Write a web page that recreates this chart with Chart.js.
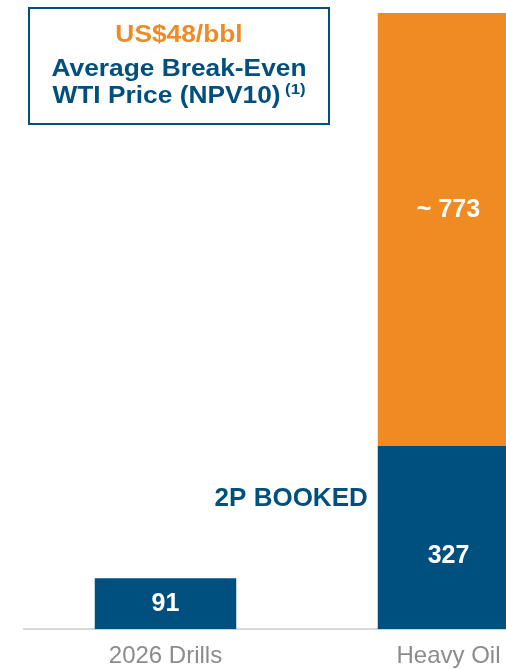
<!DOCTYPE html>
<html>
<head>
<meta charset="utf-8">
<script src="https://cdn.jsdelivr.net/npm/chart.js@4"></script>
<style>
  html, body { margin: 0; padding: 0; background: #fff; }
  #wrap { width: 506px; height: 670px; overflow: hidden; position: relative; }
  canvas { display: block; }
</style>
</head>
<body>
<div id="wrap">
  <canvas id="reserveChart" width="590" height="684"></canvas>
</div>
<script>
  // categories and values
  const categories = ['2026 Drills', 'Heavy Oil'];
  const booked = [91, 327];       // 2P booked (blue)
  const unbooked = [null, 773];   // ~ unbooked on top (orange)
  const bookedLabels = ['91', '327'];
  const unbookedLabels = ['', '~ 773'];
  const bookedNote = '2P BOOKED';
  const calloutPrice = 'US$48/bbl';
  const calloutLines = ['Average Break-Even', 'WTI Price (NPV10)'];
  const calloutNote = '(1)';

  const blue = '#00507f';
  const orange = '#f08b24';
  const fontFam = "'Liberation Sans', Arial, sans-serif";

  // white numbers inside the bars, the 2P BOOKED tag and the callout box
  const labelPlugin = {
    id: 'labels',
    afterDatasetsDraw(chart) {
      const c = chart.ctx;
      const m0 = chart.getDatasetMeta(0);
      const m1 = chart.getDatasetMeta(1);
      c.save();
      c.fillStyle = '#fff';
      c.font = 'bold 25px ' + fontFam;
      c.textAlign = 'center';
      c.textBaseline = 'middle';
      m0.data.forEach((bar, i) => {
        const mid = (bar.y + bar.base) / 2;
        const shift = i === 1 ? 19 : 0;
        c.fillText(bookedLabels[i], bar.x, mid + shift);
      });
      m1.data.forEach((bar, i) => {
        if (!unbookedLabels[i]) return;
        const mid = (bar.y + bar.base) / 2;
        c.fillText(unbookedLabels[i], bar.x, mid - 19);
      });

      // 2P BOOKED to the left of the heavy oil bar
      const hb = m0.data[1];
      c.fillStyle = blue;
      c.font = 'bold 26px ' + fontFam;
      c.textAlign = 'right';
      c.fillText(bookedNote, hb.x - hb.width / 2 - 10, hb.y + 53);

      // callout box
      c.strokeStyle = blue;
      c.lineWidth = 2;
      c.strokeRect(29, 8, 300, 116);

      // the box text is a bit wider than plain Arial
      c.translate(179, 0);
      c.scale(1.12, 1);
      c.textAlign = 'center';
      c.textBaseline = 'alphabetic';
      c.fillStyle = orange;
      c.font = 'bold 23.5px ' + fontFam;
      c.fillText(calloutPrice, 0, 42);
      c.fillStyle = blue;
      c.fillText(calloutLines[0], 0, 76);
      const w1 = c.measureText(calloutLines[1]).width;
      c.font = 'bold 15px ' + fontFam;
      const w2 = c.measureText(calloutNote).width;
      const left = -(w1 + 4 + w2) / 2;
      c.textAlign = 'left';
      c.fillText(calloutNote, left + w1 + 4, 94);
      c.font = 'bold 23.5px ' + fontFam;
      c.fillText(calloutLines[1], left, 102.5);
      c.restore();
    }
  };

  let ctx = document.getElementById('reserveChart').getContext('2d');

  let reserveChart = new Chart(ctx, {
    type: 'bar',
    data: {
      labels: categories,
      datasets: [{
        label: '2P Booked',
        data: booked,
        backgroundColor: blue,
        barPercentage: 0.5,
        categoryPercentage: 1
      }, {
        label: 'Unbooked',
        data: unbooked,
        backgroundColor: orange,
        barPercentage: 0.5,
        categoryPercentage: 1
      }]
    },
    options: {
      responsive: false,
      animation: false,
      layout: { padding: { left: 24, right: 0, top: 0, bottom: 0 } },
      plugins: {
        legend: { display: false },
        tooltip: { enabled: false }
      },
      scales: {
        x: {
          stacked: true,
          grid: { display: false, drawTicks: false },
          border: { color: '#d9d9d9', width: 2 },
          ticks: {
            color: '#8c8c8c',
            padding: 13,
            font: { family: fontFam, size: 24, lineHeight: 1.2 }
          }
        },
        y: {
          stacked: true,
          display: false,
          min: 0,
          max: 1123
        }
      }
    },
    plugins: [labelPlugin]
  });
</script>
</body>
</html>
